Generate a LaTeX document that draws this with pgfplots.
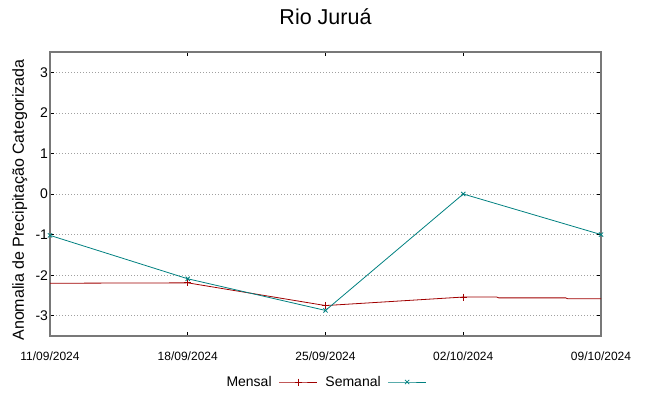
\documentclass[border=0pt]{standalone}
\usepackage{pgfplots}
\pgfplotsset{compat=1.18}
\usepackage{fontspec}
\setmainfont{Liberation Sans}
\definecolor{mensal}{RGB}{160,0,0}
\definecolor{semanal}{RGB}{0,128,128}
\definecolor{axgray}{RGB}{120,120,120}
\definecolor{gridgray}{RGB}{160,160,160}
\begin{document}
\begin{tikzpicture}
\begin{axis}[
  scale only axis,
  width=551pt, height=284pt,
  xmin=0, xmax=28, ymin=-3.5, ymax=3.5,
  xtick={0,7,14,21,28},
  xticklabels={11/09/2024,18/09/2024,25/09/2024,02/10/2024,09/10/2024},
  ytick={-3,-2,-1,0,1,2,3},
  /pgf/number format/assume math mode=true,
  yticklabel style={font=\fontsize{14}{16}\selectfont, xshift=1.5pt},
  xticklabel style={font=\fontsize{12}{14}\selectfont, yshift=-12pt},
  ymajorgrids,
  major grid style={gridgray, dash pattern=on 1pt off 2pt, line width=0.6pt},
  axis line style={axgray, line width=1.2pt},
  major tick length=4pt,
  tick style={black, line width=0.6pt},
  title={Rio Juruá},
  title style={font=\fontsize{21.5}{24}\selectfont, at={(0.5,1)}, anchor=base, yshift=21pt},
  ylabel={Anomalia de Precipitação Categorizada},
  ylabel style={font=\fontsize{16}{18}\selectfont, at={(axis description cs:-0.055,0.479)}, anchor=center},
  legend columns=2,
  legend style={draw=none, fill=none, at={(0.5,-0.162)}, anchor=center,
    font=\fontsize{14}{16}\selectfont, legend plot pos=right,
    /tikz/every odd column/.append style={column sep=5pt},
    /tikz/every even column/.append style={column sep=6pt}},
  legend image code/.code={\draw[mark repeat=2,mark phase=2] plot coordinates {(0pt,0pt)(19pt,0pt)(38pt,0pt)};},
]
\coordinate (sw) at (rel axis cs:0,0);
\coordinate (ne) at (rel axis cs:1,1);
\addlegendimage{mensal, line width=0.8pt, mark=+, mark size=3.5pt, mark options={solid, mensal}}
\addlegendentry{Mensal}
\addlegendimage{semanal, line width=0.8pt, mark=x, mark size=3pt, mark options={solid, semanal}}
\addlegendentry{Semanal}
% Mensal
\addplot[mensal, line width=0.8pt, mark=+, mark size=3.5pt, mark options={mensal}, mark indices={2,3,4}, forget plot]
  coordinates {(0,-2.2) (7,-2.19) (14,-2.75) (21,-2.54) (22.7,-2.54) (22.8,-2.56) (26.2,-2.56) (26.3,-2.58) (28,-2.58)};
% Semanal
\addplot[semanal, line width=0.8pt, mark=x, mark size=3pt, mark options={semanal}, forget plot]
  coordinates {(0,-1.02) (7,-2.09) (14,-2.87) (21,0) (28,-1.0)};
\end{axis}
\pgfresetboundingbox
\path ([shift={(-50pt,-60pt)}]sw) rectangle ([shift={(48pt,52pt)}]ne);
\end{tikzpicture}
\end{document}
